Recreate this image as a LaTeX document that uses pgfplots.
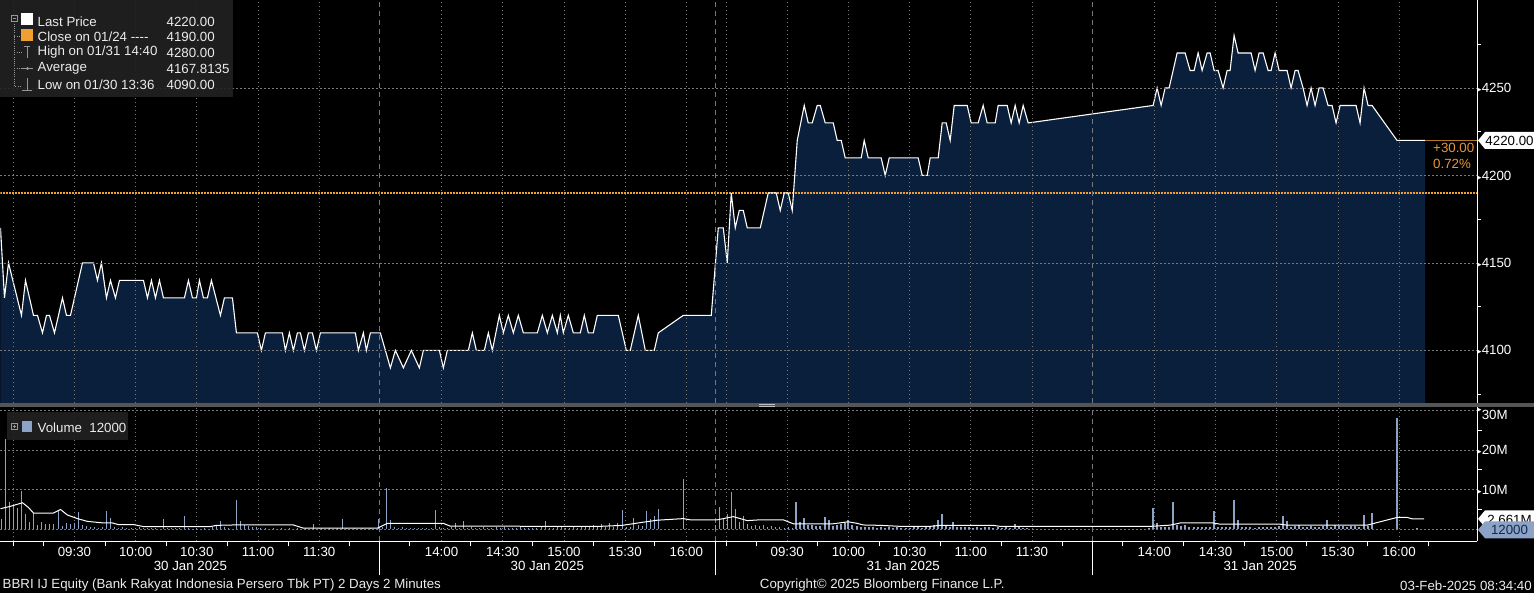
\documentclass[border=0pt]{standalone}
\usepackage{pgfplots}
\usepackage{pgfplotstable}
\pgfplotsset{compat=1.18}
\usepackage{fontspec}
\setmainfont{Liberation Sans}
\newfontfamily\dejavu{DejaVu Sans}
\definecolor{navy}{RGB}{10,31,60}
\definecolor{gridc}{RGB}{120,120,120}
\definecolor{orng}{RGB}{240,160,50}
\definecolor{orngtxt}{RGB}{232,150,60}
\definecolor{volc}{RGB}{140,162,198}
\definecolor{legbg}{RGB}{34,34,34}
\definecolor{txt}{RGB}{236,236,236}
\definecolor{sepc}{RGB}{85,85,85}
\definecolor{iconc}{RGB}{150,150,150}
\definecolor{tagtxt}{RGB}{20,40,75}
\newcommand{\tri}{{\dejavu\fontsize{9}{9}\selectfont ▸}}
\newcommand{\fs}{\fontsize{13.3}{15}\selectfont}

\pgfplotstableread{
x y
0 4170
4 4130
8 4150
21 4120
25 4140
33 4120
37 4120
42 4110
46 4120
49 4120
54 4110
62 4130
66 4120
70 4120
82 4150
93 4150
97 4140
101 4150
106 4130
110 4140
115 4130
119 4140
143 4140
147 4130
151 4140
155 4130
159 4140
163 4130
184 4130
188 4140
192 4130
196 4130
199 4140
203 4130
207 4130
211 4140
220 4120
224 4130
232 4130
236 4110
257 4110
261 4100
265 4110
282 4110
285 4100
289 4110
293 4100
297 4110
300 4110
304 4100
308 4110
312 4110
316 4100
320 4110
355 4110
358 4100
363 4110
366 4100
370 4110
380 4110
390 4090
395 4100
403 4090
411 4100
419 4090
423 4100
439 4100
443 4090
447 4100
468 4100
472 4110
476 4100
484 4100
488 4110
492 4100
499 4120
503 4110
508 4120
513 4110
518 4120
523 4110
537 4110
542 4120
547 4110
552 4120
557 4110
560 4120
563 4110
568 4120
573 4110
580 4110
584 4120
588 4110
593 4110
597 4120
618 4120
626 4100
630 4100
638 4120
645 4100
654 4100
658 4110
683 4120
711 4120
718 4170
723 4170
727 4150
731 4190
735 4170
739 4180
743 4180
747 4170
760 4170
768 4190
776 4190
780 4180
784 4190
788 4190
792 4180
797 4220
804 4240
808 4230
812 4230
817 4240
820 4240
825 4230
833 4230
837 4220
841 4220
845 4210
861 4210
864 4220
868 4210
881 4210
885 4200
889 4210
918 4210
922 4200
927 4200
930 4210
938 4210
942 4230
946 4230
950 4220
954 4240
967 4240
971 4230
978 4230
983 4240
987 4230
995 4230
998 4240
1007 4240
1011 4230
1015 4240
1019 4230
1023 4240
1028 4230
1153 4240
1157 4250
1161 4240
1165 4250
1169 4250
1177 4270
1185 4270
1190 4260
1194 4260
1198 4270
1202 4260
1207 4270
1210 4270
1214 4260
1218 4260
1223 4250
1227 4260
1230 4260
1234 4280
1238 4270
1251 4270
1255 4260
1259 4270
1263 4270
1268 4260
1271 4260
1275 4270
1279 4260
1287 4260
1291 4250
1295 4260
1298 4260
1303 4250
1307 4240
1311 4250
1315 4240
1319 4250
1323 4250
1328 4240
1332 4240
1336 4230
1340 4240
1356 4240
1360 4230
1364 4250
1368 4240
1372 4240
1397 4220
1425 4220
}\pricedata

\pgfplotstableread{
x v
1 2.5
5 22.7
9 6.8
13 6.0
17 5.5
21 9.6
25 3.8
29 1.8
33 4.0
37 1.0
41 1.8
45 1.3
49 1.3
53 1.3
58 4.8
62 0.8
66 1.5
70 1.3
74 1.6
78 4.3
82 1.0
86 0.8
90 0.6
94 0.5
98 0.4
102 0.6
106 4.6
110 2.9
114 0.6
118 0.4
122 0.5
126 0.3
131 0.4
135 0.3
139 0.5
143 0.3
147 0.4
151 0.3
155 0.3
163 2.7
167 0.4
171 0.3
175 0.3
179 0.4
184 3.4
188 0.3
196 0.4
204 0.3
212 0.5
216 0.8
220 2.1
224 0.6
228 0.3
236 7.3
240 2.1
244 1.1
248 0.8
252 0.7
256 0.5
260 0.4
265 0.3
273 0.3
281 0.4
289 0.3
297 0.3
305 0.4
313 1.3
321 0.3
329 0.4
337 0.3
342 2.7
346 0.4
354 0.3
362 0.3
370 0.4
378 2.7
382 0.6
386 10.3
390 2.3
394 0.5
398 0.4
402 0.6
406 0.3
410 0.4
414 0.3
418 0.3
422 0.4
426 0.3
431 0.4
435 4.8
439 0.6
443 0.4
447 0.3
451 0.5
455 1.5
459 0.4
463 2.1
467 0.4
471 0.5
475 0.3
479 0.4
483 0.5
487 0.3
491 0.4
496 0.6
500 0.4
504 0.5
508 0.4
512 0.3
516 0.4
520 0.5
524 0.3
528 0.4
532 0.3
536 0.4
541 0.5
545 2.0
549 0.4
553 0.3
557 0.5
561 0.6
565 0.4
569 0.3
573 0.5
577 0.4
581 0.6
585 0.8
589 0.7
593 1.1
597 0.8
601 1.3
605 0.7
609 1.6
613 0.6
617 1.5
622 4.8
626 0.7
630 0.6
633 2.9
638 1.1
642 0.8
646 4.6
650 2.7
654 3.4
658 5.1
683 12.8
715 1.0
719 5.7
723 2.6
727 3.8
731 9.3
735 5.1
739 1.9
743 3.4
747 1.3
751 0.9
755 1.0
759 0.8
763 1.1
767 0.7
771 0.9
775 0.5
779 0.6
784 0.4
788 0.5
792 0.4
796 6.8
800 1.9
804 2.9
808 1.0
812 1.1
816 0.8
820 0.9
825 3.2
829 2.4
833 0.8
837 1.0
841 1.3
845 1.5
848 2.4
852 1.2
857 0.8
861 0.6
865 0.5
869 0.6
873 0.5
877 0.4
881 0.5
885 0.4
889 0.5
893 0.4
897 0.5
901 0.3
906 0.4
910 0.3
914 0.5
918 0.6
922 0.4
926 0.6
930 0.8
934 1.2
938 2.4
942 3.8
946 0.9
950 0.7
953 1.9
957 0.6
961 0.5
965 0.6
969 0.5
973 0.4
977 0.5
981 0.4
985 0.6
989 0.5
993 0.4
998 0.5
1002 0.4
1006 0.5
1010 0.4
1015 1.3
1019 0.5
1023 0.4
1027 0.3
1149 0.3
1153 5.3
1157 1.6
1161 0.6
1165 0.5
1169 0.6
1173 6.8
1177 1.1
1181 0.8
1185 1.0
1189 0.7
1194 0.6
1198 0.5
1202 0.6
1206 0.5
1210 0.6
1214 4.6
1218 0.6
1222 0.5
1226 0.6
1230 0.7
1234 7.3
1238 2.3
1242 0.6
1246 0.5
1250 0.6
1255 0.4
1259 0.5
1263 0.6
1267 0.5
1271 0.6
1275 0.7
1279 0.8
1283 3.4
1287 2.1
1291 0.6
1295 0.8
1299 1.0
1303 0.6
1307 0.7
1311 0.8
1315 0.6
1319 0.7
1323 0.9
1327 2.4
1331 0.7
1335 1.0
1339 0.9
1343 0.8
1347 0.7
1351 0.8
1355 0.9
1359 0.7
1364 3.6
1368 0.8
1372 4.2
1397 28.0
1417 0.3
}\voldata

\pgfplotstableread{
x v
0 5.2
10 5.8
22 6.7
28 5.5
33 4.1
53 4.1
60 5.0
67 3.6
77 2.7
87 2.0
103 1.6
112 1.6
118 1.2
133 1.2
143 0.7
210 0.7
216 1.0
233 1.1
293 1.1
303 0.3
377 0.3
387 1.5
443 1.5
450 0.8
600 0.75
622 1.0
643 1.8
657 2.3
683 2.7
690 2.4
717 2.4
733 3.2
747 2.2
760 2.4
783 2.4
793 1.4
833 1.4
848 1.9
857 1.5
863 1.1
880 1.0
900 0.75
930 0.75
940 1.0
993 1.0
1000 0.75
1150 0.75
1170 1.05
1180 1.6
1213 1.6
1220 1.3
1280 1.3
1287 1.05
1367 1.05
1397 3.0
1407 3.0
1412 2.66
1424 2.66
}\madata

\pgfplotsset{
  bbg/.style={
    scale only axis, width=1477pt, xmin=0, xmax=1477,
    axis x line*=bottom, axis y line*=right,
    tick align=outside, major tick length=0pt, minor tick length=4pt,
    tick label style={font=\fs},
    major grid style={gridc, dash pattern=on 1.6pt off 2.4pt, line width=0.7pt},
    xmajorgrids, ymajorgrids,
    xtick={12.8,74,135.2,196.4,257.6,318.8,441.2,502.4,563.6,624.8,686,725.8,787,848.2,909.4,970.6,1031.8,1154.2,1215.4,1276.6,1337.8,1399},
    extra x ticks={379,715,1092},
    extra x tick labels={},
    y axis line style={white, line width=1pt},
    yticklabel style={white, anchor=west, inner sep=0pt, xshift=0pt},
    ytick style={white, line width=1pt},
  }
}

\begin{document}
\begin{tikzpicture}
\begin{scope}[x=1pt,y=1pt]
\useasboundingbox (0,0) rectangle (1534,593);
\fill[black] (0,0) rectangle (1534,593);
\end{scope}

% ---------------- price panel ----------------
\begin{axis}[bbg, at={(0pt,190pt)}, anchor=south west, height=403pt,
  ymin=4069.7, ymax=4300, axis on top,
  x axis line style={draw=none}, xticklabels={}, xtick style={draw=none},
  extra x tick style={tick style={draw=none}, major grid style={gridc, dash pattern=on 5pt off 4pt, line width=0.8pt}},
  ytick={4100,4150,4200,4250},
  yticklabels={{\tri4100},{\tri4150},{\tri4200},{\tri4250}},
  minor ytick={4075,4125,4175,4225,4275}]
\addplot[draw=none, fill=navy] table[x=x,y=y] {\pricedata} \closedcycle;
\addplot[orng, line width=1.2pt, dash pattern=on 1.5pt off 1.5pt] coordinates {(0,4190) (1477,4190)};
\addplot[white, line width=1.1pt] table[x=x,y=y] {\pricedata};
\addplot[orng!75!black, line width=0.9pt] coordinates {(1425,4220) (1477,4220)};
\end{axis}

% ---------------- volume panel ----------------
\begin{axis}[bbg, at={(0pt,52pt)}, anchor=south west, height=134pt,
  ymin=-3.02, ymax=30.73,
  x axis line style={white, line width=1pt},
  xticklabels={{},09:30,10:00,10:30,11:00,11:30,14:00,14:30,15:00,15:30,16:00,{},09:30,10:00,10:30,11:00,11:30,14:00,14:30,15:00,15:30,16:00},
  xticklabel style={white, anchor=north, inner sep=0pt, yshift=-6pt},
  minor xtick={12.8,43.4,104.6,165.8,227,288.2,349.4,409.4,470.6,531.8,593,654.2,725.8,756.4,817.6,878.8,940,1001.2,1062.4,1122.4,1183.6,1244.8,1306,1367.2,1428.4},
  xtick style={white, line width=1pt}, minor tick length=5pt,
  extra x tick style={major tick length=34pt, tick style={white, line width=1pt}, major grid style={gridc, dash pattern=on 5pt off 4pt, line width=0.8pt}},
  ytick={0,10,20,30},
  yticklabels={{},{\tri10M},{\tri20M},{\tri\smash{\raisebox{-7pt}{30M}}}},
  minor ytick={5,15,25}]
\addplot[ycomb, volc, line width=1.5pt] table[x=x,y=v] {\voldata};
\addplot[white, line width=1pt] table[x=x,y=v] {\madata};
\end{axis}

\begin{scope}[x=1pt,y=1pt]
% separator bar
\fill[sepc] (0,186) rectangle (1534,190.5);
\draw[white!75!black, line width=0.6pt] (759,189.2) -- (775,189.2);
\draw[white!75!black, line width=0.6pt] (759,187.4) -- (775,187.4);

% last value tags
\fill[white] (1478,453) -- (1485,461.5) -- (1534,461.5) -- (1534,444.5) -- (1485,444.5) -- cycle;
\node[black, inner sep=0pt, font=\fs] at (1509.5,453) {4220.00};
\node[orngtxt, anchor=west, inner sep=0pt, font=\fs] at (1433,446) {+30.00};
\node[orngtxt, anchor=west, inner sep=0pt, font=\fs] at (1433,430) {0.72\%};
\fill[white] (1478,74.5) -- (1485,83) -- (1534,83) -- (1534,66) -- (1485,66) -- cycle;
\node[black, inner sep=0pt, font=\fs] at (1509.5,73.5) {2.661M};
\fill[volc] (1478,63.5) -- (1485,72) -- (1534,72) -- (1534,55) -- (1485,55) -- cycle;
\node[tagtxt, inner sep=0pt, font=\fs] at (1509.5,63.5) {12000};

% price legend
\fill[legbg, fill opacity=0.9] (0,496) rectangle (233,593);
\draw[iconc, line width=0.6pt] (11,572) rectangle (17,578);
\draw[iconc, line width=0.6pt] (12.5,575) -- (15.5,575);
\draw[iconc, line width=0.6pt, dash pattern=on 1pt off 1.2pt] (14,572) -- (14,507) -- (21,507);
\foreach \yy in {557,541,525} {\draw[iconc, line width=0.6pt, dash pattern=on 1pt off 1.2pt] (14,\yy) -- (21,\yy);}
\fill[white] (21,568) rectangle (33,580);
\fill[orng] (21,552) rectangle (33,564);
\draw[iconc, line width=0.8pt] (24,547) -- (30,547) (27,547) -- (27,535);
\draw[iconc, line width=0.8pt] (21,525) -- (33,525);
\fill[iconc] (27,525) circle (1.6);
\draw[iconc, line width=0.8pt] (27,515) -- (27,503) (22,503) -- (32,503);
\begin{scope}[every node/.style={txt, anchor=west, inner sep=0pt, font=\fs}]
\node at (37,572) {Last Price};
\node at (37,557) {Close on 01/24 -{}-{}-{}-};
\node at (37,541) {High on 01/31 14:40};
\node at (37,525) {Average};
\node at (37,509) {Low on 01/30 13:36};
\node at (166,572) {4220.00};
\node at (166,557) {4190.00};
\node at (166,541) {4280.00};
\node at (166,525) {4167.8135};
\node at (166,509) {4090.00};
\end{scope}

% volume legend
\fill[legbg, fill opacity=0.9] (7,153) rectangle (128,181);
\draw[iconc, line width=0.6pt] (11,164) rectangle (17,170);
\draw[iconc, line width=0.6pt] (12.5,167) -- (15.5,167) (14,165.5) -- (14,168.5);
\fill[volc] (22,161) rectangle (32,172);
\node[txt, anchor=west, inner sep=0pt, font=\fs] at (37,166) {Volume\ \ 12000};

% date labels and footer
\begin{scope}[every node/.style={white, inner sep=0pt, font=\fs}]
\node at (190,27) {30 Jan 2025};
\node at (547,27) {30 Jan 2025};
\node at (903,27) {31 Jan 2025};
\node at (1260,27) {31 Jan 2025};
\end{scope}
\begin{scope}[every node/.style={txt, inner sep=0pt, font=\fs}]
\node[anchor=west] at (2,8) {BBRI IJ Equity (Bank Rakyat Indonesia Persero Tbk PT) 2 Days 2 Minutes};
\node at (882,8) {Copyright© 2025 Bloomberg Finance L.P.};
\node[anchor=east] at (1532,8) {03-Feb-2025 08:34:40};
\end{scope}
\end{scope}
\end{tikzpicture}
\end{document}
